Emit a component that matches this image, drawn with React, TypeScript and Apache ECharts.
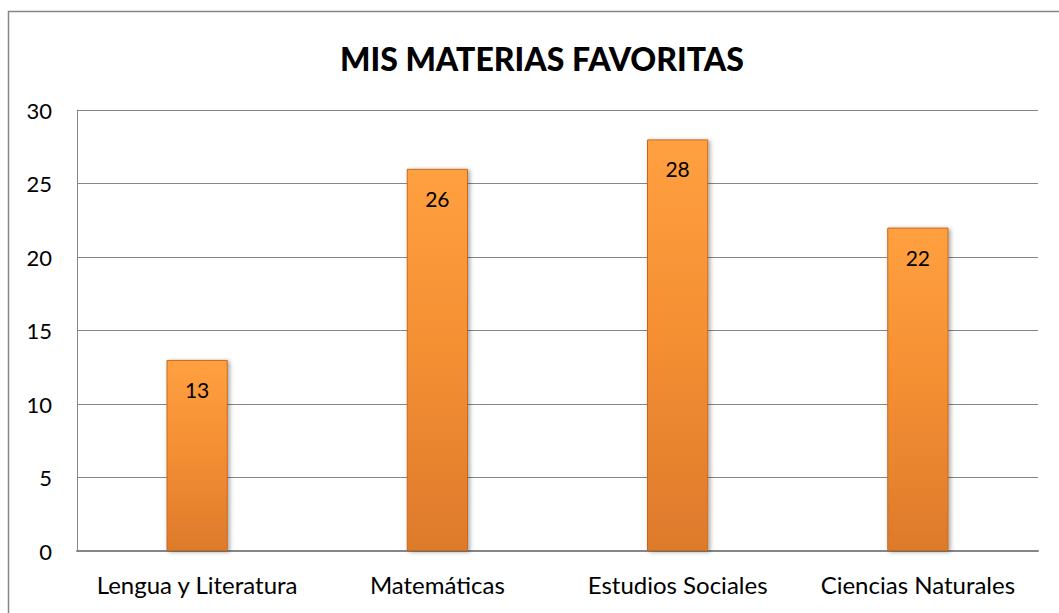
import React, { useEffect, useRef } from "react";
import * as echarts from "echarts";

const title = "MIS MATERIAS FAVORITAS";
const categories = ["Lengua y Literatura", "Matemáticas", "Estudios Sociales", "Ciencias Naturales"];
const values = [13, 26, 28, 22];
const yTicks = { min: 0, max: 30, interval: 5 };

const FONT = "Lato";

export default function App() {
  const ref = useRef<HTMLDivElement>(null);
  useEffect(() => {
    const chart = echarts.init(ref.current!, null, { renderer: "svg" });
    chart.setOption({
      animation: false,
      backgroundColor: "#ffffff",
      title: {
        text: title,
        left: 537,
        textAlign: "center",
        top: 37,
        textStyle: { fontFamily: FONT, fontWeight: 900, fontSize: 32, color: "#000" },
      },
      graphic: [
        {
          type: "rect",
          shape: { x: 8.5, y: 11.5, width: 1200, height: 800 },
          style: { fill: "none", stroke: "#868686", lineWidth: 1.5 },
          silent: true,
        },
      ],
      grid: { left: 77, top: 110, right: 21, bottom: 62 },
      xAxis: {
        type: "category",
        data: categories,
        axisLine: { show: true, lineStyle: { color: "#868686", width: 2 } },
        axisTick: { show: false },
        axisLabel: { fontFamily: FONT, fontSize: 24, color: "#000", margin: 21, interval: 0 },
      },
      yAxis: {
        type: "value",
        min: yTicks.min,
        max: yTicks.max,
        interval: yTicks.interval,
        axisLine: { show: true, lineStyle: { color: "#868686", width: 1 } },
        axisTick: { show: false },
        axisLabel: { fontFamily: FONT, fontSize: 22, color: "#000", margin: 25 },
        splitLine: { lineStyle: { color: "#868686", width: 1 } },
      },
      series: [
        {
          type: "bar",
          data: values,
          barWidth: "25.5%",
          itemStyle: {
            color: new echarts.graphic.LinearGradient(0, 0, 0, 1, [
              { offset: 0, color: "#FFA040" },
              { offset: 0.5, color: "#F48E32" },
              { offset: 1, color: "#DD7A2C" },
            ]),
            borderColor: "#C8691F",
            borderWidth: 1,
            shadowColor: "rgba(0,0,0,0.35)",
            shadowBlur: 4,
            shadowOffsetX: 2,
            shadowOffsetY: 1,
          },
          label: {
            show: true,
            position: "insideTop",
            distance: 19,
            fontFamily: FONT,
            fontSize: 21,
            color: "#000",
          },
        },
      ],
    });
    return () => chart.dispose();
  }, []);
  return (
    <div
      ref={ref}
      style={{ position: "absolute", left: 0, top: 0, width: 1059, height: 613 }}
    />
  );
}
